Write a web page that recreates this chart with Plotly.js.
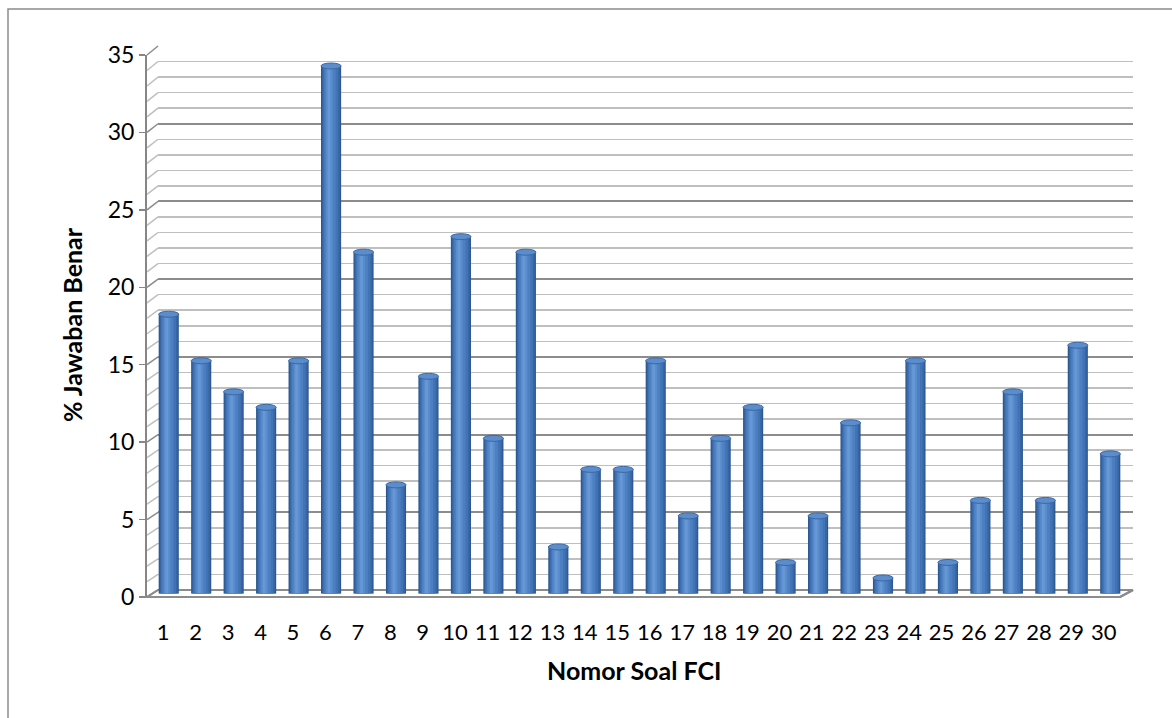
<!DOCTYPE html>
<html>
<head>
<meta charset="utf-8">
<script src="https://cdn.plot.ly/plotly-3.0.1.min.js"></script>
<style>html,body{margin:0;padding:0;background:#fff;}#chart{width:1172px;height:718px;}</style>
</head>
<body>
<div id="chart"></div>
<script>
// ---- data ----
const soal = [1,2,3,4,5,6,7,8,9,10,11,12,13,14,15,16,17,18,19,20,21,22,23,24,25,26,27,28,29,30];
const persenBenar = [18,15,13,12,15,34,22,7,14,23,10,22,3,8,8,15,5,10,12,2,5,11,1,15,2,6,13,6,16,9];
const yTicks = [0,5,10,15,20,25,30,35];
const xTitle = 'Nomor Soal FCI';
const yTitle = '% Jawaban Benar';

// ---- geometry (pixels) ----
const W = 1172, H = 718;
const FRONT = {x0:147, x1:1120, yb:597, yt:55};
const BACK  = {x0:158, x1:1133, yb:590, yt:46};
const MID   = {x0:152.5, x1:1126.5, yb:593.5, yt:50.5};
const YMAX = 35;
const px = v => v / W;
const py = v => 1 - v / H;
function yPix(g, v){ return g.yb - (g.yb - g.yt) * v / YMAX; }

const font = 'Lato, "Open Sans", sans-serif';
const gridMajor = '#8C8C8C', gridMinor = '#BFBFBF';

// bar layers (simulate cylinder shading)
const layers = [
  {w:0.62, dx:0.00, c:'#2B5890'},
  {w:0.55, dx:0.00, c:'#3766A3'},
  {w:0.46, dx:-0.01, c:'#4273B4'},
  {w:0.34, dx:-0.03, c:'#4D80C2'},
  {w:0.20, dx:-0.05, c:'#5A8CCC'},
  {w:0.09, dx:-0.06, c:'#6598D5'}
];
const traces = layers.map(L => ({
  type:'bar', x:soal, y:persenBenar, xaxis:'x3', yaxis:'y3',
  width: soal.map(()=>L.w), offset: soal.map(()=>-L.w/2 + L.dx),
  marker:{color:L.c, line:{width:0}}, hoverinfo:'skip', showlegend:false
}));
traces.unshift({type:'scatter', x:[soal[0]], y:[0], mode:'markers', marker:{opacity:0}, hoverinfo:'skip', showlegend:false, xaxis:'x', yaxis:'y'});
traces.unshift({type:'scatter', x:[soal[0]], y:[0], mode:'markers', marker:{opacity:0}, hoverinfo:'skip', showlegend:false, xaxis:'x2', yaxis:'y2'});

const shapes = [];
// outer chart border
shapes.push({type:'rect', xref:'paper', yref:'paper', x0:px(8), x1:px(1180), y0:py(9), y1:py(730), line:{color:'#8C8C8C', width:1.5}, fillcolor:'rgba(0,0,0,0)', layer:'below'});
// floor
shapes.push({type:'path', xref:'paper', yref:'paper', layer:'below',
  path:`M ${px(FRONT.x0)} ${py(FRONT.yb)} L ${px(FRONT.x1)} ${py(FRONT.yb)} L ${px(BACK.x1)} ${py(BACK.yb)} L ${px(BACK.x0)} ${py(BACK.yb)} Z`,
  fillcolor:'#FFFFFF', line:{color:gridMajor, width:2}});
// left wall diagonals
for (let v = 0; v <= YMAX; v++) {
  const major = v % 5 === 0;
  shapes.push({type:'line', xref:'paper', yref:'paper', layer:'below',
    x0:px(FRONT.x0), y0:py(yPix(FRONT, v)), x1:px(BACK.x0), y1:py(yPix(BACK, v)),
    line:{color: major ? gridMajor : gridMinor, width: 1.5}});
}
// bottom ellipses (below bars)
soal.forEach((s,i) => {
  shapes.push({type:'circle', xref:'x3', yref:'y3', layer:'below', x0:s-0.31, x1:s+0.31,
    ysizemode:'pixel', yanchor:0, y0:-3, y1:3, fillcolor:'#2E5B92', line:{width:0}});
});
// top ellipses
soal.forEach((s,i) => {
  shapes.push({type:'circle', xref:'x3', yref:'y3', layer:'above', x0:s-0.31, x1:s+0.31,
    ysizemode:'pixel', yanchor:persenBenar[i], y0:-3, y1:3, fillcolor:'#5B8CCB', line:{color:'#3B68A5', width:1}});
});
// front right floor edge
shapes.push({type:'line', xref:'paper', yref:'paper', layer:'below', x0:px(FRONT.x1), y0:py(FRONT.yb), x1:px(BACK.x1), y1:py(BACK.yb), line:{color:gridMajor, width:2}});

const layout = {
  width: W, height: H,
  margin:{l:0, r:0, t:0, b:0},
  paper_bgcolor:'#FFFFFF', plot_bgcolor:'rgba(0,0,0,0)',
  barmode:'overlay', showlegend:false,
  font:{family:font, color:'#000'},
  xaxis2:{domain:[px(BACK.x0), px(BACK.x1)], range:[0.5,30.5], anchor:'y2', showgrid:false, showticklabels:false, zeroline:false, ticks:''},
  yaxis2:{domain:[py(BACK.yb), py(BACK.yt)], range:[0,YMAX], anchor:'x2', tickvals:yTicks, showticklabels:false, ticks:'', showgrid:true, gridcolor:gridMajor, gridwidth:2, zeroline:false,
          minor:{dtick:1, showgrid:true, gridcolor:gridMinor, gridwidth:1.5}},
  xaxis3:{domain:[px(MID.x0), px(MID.x1)], range:[0.5,30.5], anchor:'y3', showgrid:false, showticklabels:false, zeroline:false, ticks:''},
  yaxis3:{domain:[py(MID.yb), py(MID.yt)], range:[0,YMAX], anchor:'x3', showgrid:false, showticklabels:false, zeroline:false, ticks:''},
  xaxis:{domain:[px(FRONT.x0), px(FRONT.x1)], range:[0.5,30.5], anchor:'y', tickvals:soal, ticktext:soal.map(String), ticks:'', showgrid:false, zeroline:false,
         showline:false, tickfont:{size:22, family:font}, ticklabelstandoff:20},
  yaxis:{domain:[py(FRONT.yb), py(FRONT.yt)], range:[0,YMAX], anchor:'x', tickvals:yTicks, ticks:'outside', ticklen:6, tickwidth:1.5, tickcolor:'#868686',
         showline:true, linecolor:'#868686', linewidth:2, showgrid:false, zeroline:false,
         tickfont:{size:23, family:font}, ticklabelstandoff:0},
  annotations:[
    {xref:'paper', yref:'paper', x:px(634), y:py(670), text:'<b>'+xTitle+'</b>', showarrow:false, xanchor:'center', yanchor:'middle', font:{size:25, family:font, color:'#000'}},
    {xref:'paper', yref:'paper', x:px(72), y:py(325), text:'<b>'+yTitle+'</b>', showarrow:false, textangle:-90, xanchor:'center', yanchor:'middle', font:{size:25, family:font, color:'#000'}}
  ],
  shapes: shapes
};

Plotly.newPlot('chart', traces, layout, {staticPlot:true, displayModeBar:false});
</script>
</body>
</html>
